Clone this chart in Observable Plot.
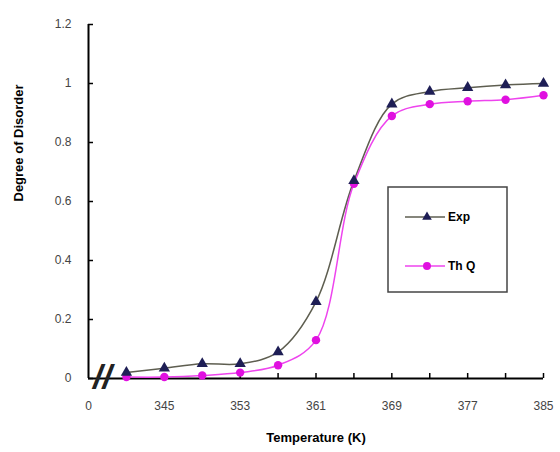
<!DOCTYPE html>
<html><head><meta charset="utf-8">
<script src="https://cdn.jsdelivr.net/npm/d3@7"></script>
<script src="https://cdn.jsdelivr.net/npm/@observablehq/plot@0.6"></script>
<style>
body{margin:0;background:#fff}
#chart{position:relative;width:560px;height:452px}
</style>
</head><body><div id="chart"></div>
<script>
const temperatures = [341,345,349,353,357,361,365,369,373,377,381,385];
const expValues = [0.02,0.035,0.05,0.05,0.09,0.26,0.67,0.93,0.973,0.986,0.995,1.0];
const thqValues = [0.005,0.005,0.01,0.02,0.045,0.13,0.66,0.89,0.93,0.94,0.945,0.96];
const seriesNames = ["Exp","Th Q"];
const xTickValues = [337,345,353,361,369,377,385];
const xTickLabels = ["0","345","353","361","369","377","385"];
const xMinorTicks = [341,345,349,353,357,361,365,369,373,377,381,385];
const yTickValues = [0,0.2,0.4,0.6,0.8,1,1.2];
const yTickLabels = ["0","0.2","0.4","0.6","0.8","1","1.2"];
const xTitle = "Temperature (K)";
const yTitle = "Degree of Disorder";

const lineColors = {"Exp":"#5e5e50","Th Q":"#ee44ee"};
const markColors = {"Exp":"#1e1e55","Th Q":"#e010e0"};

const expData = temperatures.map((t,i)=>({t, v: expValues[i]}));
const thqData = temperatures.map((t,i)=>({t, v: thqValues[i]}));

const plot = Plot.plot({
  width:560, height:452,
  marginLeft:88, marginRight:17, marginTop:24, marginBottom:74,
  style:{fontFamily:"'Liberation Sans', Arial, sans-serif", fontSize:"12px", background:"#fff", color:"#000"},
  x:{domain:[337,385]},
  y:{domain:[0,1.2]},
  marks:[
    Plot.axisX({ticks:xTickValues, tickFormat:(d,i)=>xTickLabels[i], tickSize:0, tickPadding:23, label:null, color:"#444", fontSize:12}),
    Plot.axisX({ticks:xMinorTicks, tickSize:5, dy:-5, text:null, label:null, strokeWidth:1.5}),
    Plot.axisY({ticks:yTickValues, tickFormat:(d,i)=>yTickLabels[i], tickSize:0, tickPadding:17, label:null, color:"#444", fontSize:12}),
    Plot.axisY({ticks:yTickValues, tickSize:5, dx:5, text:null, label:null, strokeWidth:1.5}),
    Plot.ruleY([0], {strokeWidth:2}),
    Plot.ruleX([337], {strokeWidth:2}),
    Plot.text(["//"], {frameAnchor:"bottom-left", lineAnchor:"middle", textAnchor:"middle", dx:14, dy:-1, text:d=>d, fontSize:34, fontWeight:"bold", fontStyle:"italic", fill:"#222"}),
    Plot.line(expData, {x:"t", y:"v", stroke:lineColors["Exp"], strokeWidth:1.5, curve:"catmull-rom"}),
    Plot.line(thqData, {x:"t", y:"v", stroke:lineColors["Th Q"], strokeWidth:1.5, curve:"catmull-rom"}),
    Plot.dot(thqData, {x:"t", y:"v", fill:markColors["Th Q"], symbol:"circle", r:4.2}),
    Plot.dot(expData, {x:"t", y:"v", fill:markColors["Exp"], symbol:"triangle", r:4.2}),
    Plot.text([xTitle], {frameAnchor:"bottom", dy:63, text:d=>d, fontSize:13, fontWeight:"bold", fill:"#000"}),
    Plot.text([yTitle], {frameAnchor:"left", dx:-70, rotate:-90, text:d=>d, fontSize:13, fontWeight:"bold", fill:"#000"})
  ]
});
document.getElementById("chart").appendChild(plot);

// legend
const svg = d3.select(plot);
const lg = svg.append("g").attr("font-family","'Liberation Sans', Arial, sans-serif").attr("text-anchor","start");
lg.append("rect").attr("x",388).attr("y",187).attr("width",119).attr("height",105)
  .attr("fill","#fff").attr("stroke","#444").attr("stroke-width",1.5);
seriesNames.forEach((name,i)=>{
  const y = 217 + i*49;
  lg.append("line").attr("x1",405).attr("x2",445).attr("y1",y).attr("y2",y)
    .attr("stroke",lineColors[name]).attr("stroke-width",1.5);
  lg.append("path").attr("transform",`translate(427,${y})`)
    .attr("d", d3.symbol(name==="Exp"?d3.symbolTriangle:d3.symbolCircle, name==="Exp"?40:50)())
    .attr("fill",markColors[name]);
  lg.append("text").attr("x",448).attr("y",y).attr("dy","0.35em").attr("text-anchor","start")
    .attr("font-size",12).attr("font-weight","bold").attr("fill","#000").text(name);
});
</script>
</body></html>
